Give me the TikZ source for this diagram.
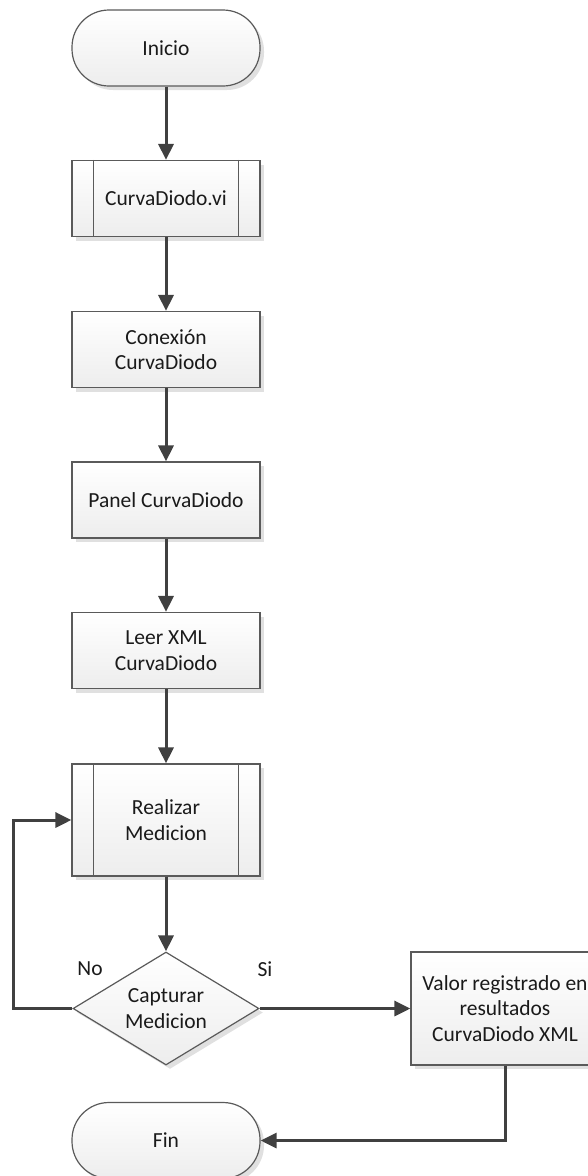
\documentclass[tikz,border=0pt]{standalone}
\usepackage{fontspec}
\setmainfont{Carlito}
\usetikzlibrary{shapes.geometric,shadows,arrows.meta}
\definecolor{lineC}{HTML}{404040}
\definecolor{borderC}{HTML}{5A5A5A}
\definecolor{shadowC}{HTML}{E0E0E0}
\definecolor{txtC}{HTML}{1A1A1A}
\tikzset{
  base/.style={draw=borderC, line width=1.2pt, top color=white, bottom color=black!7,
    text=txtC, font=\fontsize{21.5}{25.5}\selectfont, align=center, inner sep=0pt,
    drop shadow={shadow xshift=4pt, shadow yshift=-4pt, fill=shadowC, opacity=1}},
  procbox/.style={base, rectangle, minimum width=188pt, minimum height=76pt},
  termbox/.style={base, rectangle, rounded corners=37pt, minimum width=188pt, minimum height=76pt},
  decbox/.style={base, diamond, aspect=1.646, minimum width=186pt, minimum height=113pt},
  conn/.style={draw=lineC, line width=3pt, -{Triangle[length=16pt,width=15pt]}},
  lbl/.style={text=txtC, font=\fontsize{21.5}{25.5}\selectfont, inner sep=0pt}
}
\begin{document}
\begin{tikzpicture}[x=1pt,y=-1pt]
\useasboundingbox (0,0) rectangle (588,1176);
\node[termbox] (ini) at (166,48) {Inicio};
\node[procbox] (vi) at (166,198.5) {CurvaDiodo.vi};
\draw[borderC, line width=1.2pt] ([xshift=22pt]vi.north west) -- ([xshift=22pt]vi.south west)
  ([xshift=-22pt]vi.north east) -- ([xshift=-22pt]vi.south east);
\node[procbox] (con) at (166,349.5) {Conexión\\CurvaDiodo};
\node[procbox] (pan) at (166,500) {Panel CurvaDiodo};
\node[procbox] (lee) at (166,650.5) {Leer XML\\CurvaDiodo};
\node[procbox, minimum height=112pt] (rea) at (166,820) {Realizar\\Medicion};
\draw[borderC, line width=1.2pt] ([xshift=22pt]rea.north west) -- ([xshift=22pt]rea.south west)
  ([xshift=-22pt]rea.north east) -- ([xshift=-22pt]rea.south east);
\node[decbox] (cap) at (166,1008.5) {Capturar\\Medicion};
\node[procbox, minimum height=113pt] (val) at (505,1008.5) {Valor registrado en\\resultados\\CurvaDiodo XML};
\node[termbox] (fin) at (166,1140.5) {Fin};
\node[lbl] (no) at (90,969) {No};
\node[lbl] (si) at (265,969) {Si};
\coordinate (loopB) at (13,1008.5);
\coordinate (loopT) at (13,820);
\coordinate (valB) at (505,1140.5);
\draw[conn] (ini.south) -- (vi.north);
\draw[conn] (vi.south) -- (con.north);
\draw[conn] (con.south) -- (pan.north);
\draw[conn] (pan.south) -- (lee.north);
\draw[conn] (lee.south) -- (rea.north);
\draw[conn] (rea.south) -- (cap.north);
\draw[conn, line join=miter] (cap.west) -- (loopB) -- (loopT) -- (rea.west);
\draw[conn] (cap.east) -- (val.west);
\draw[conn, line join=miter] (val.south) -- (valB) -- (fin.east);
\end{tikzpicture}
\end{document}
